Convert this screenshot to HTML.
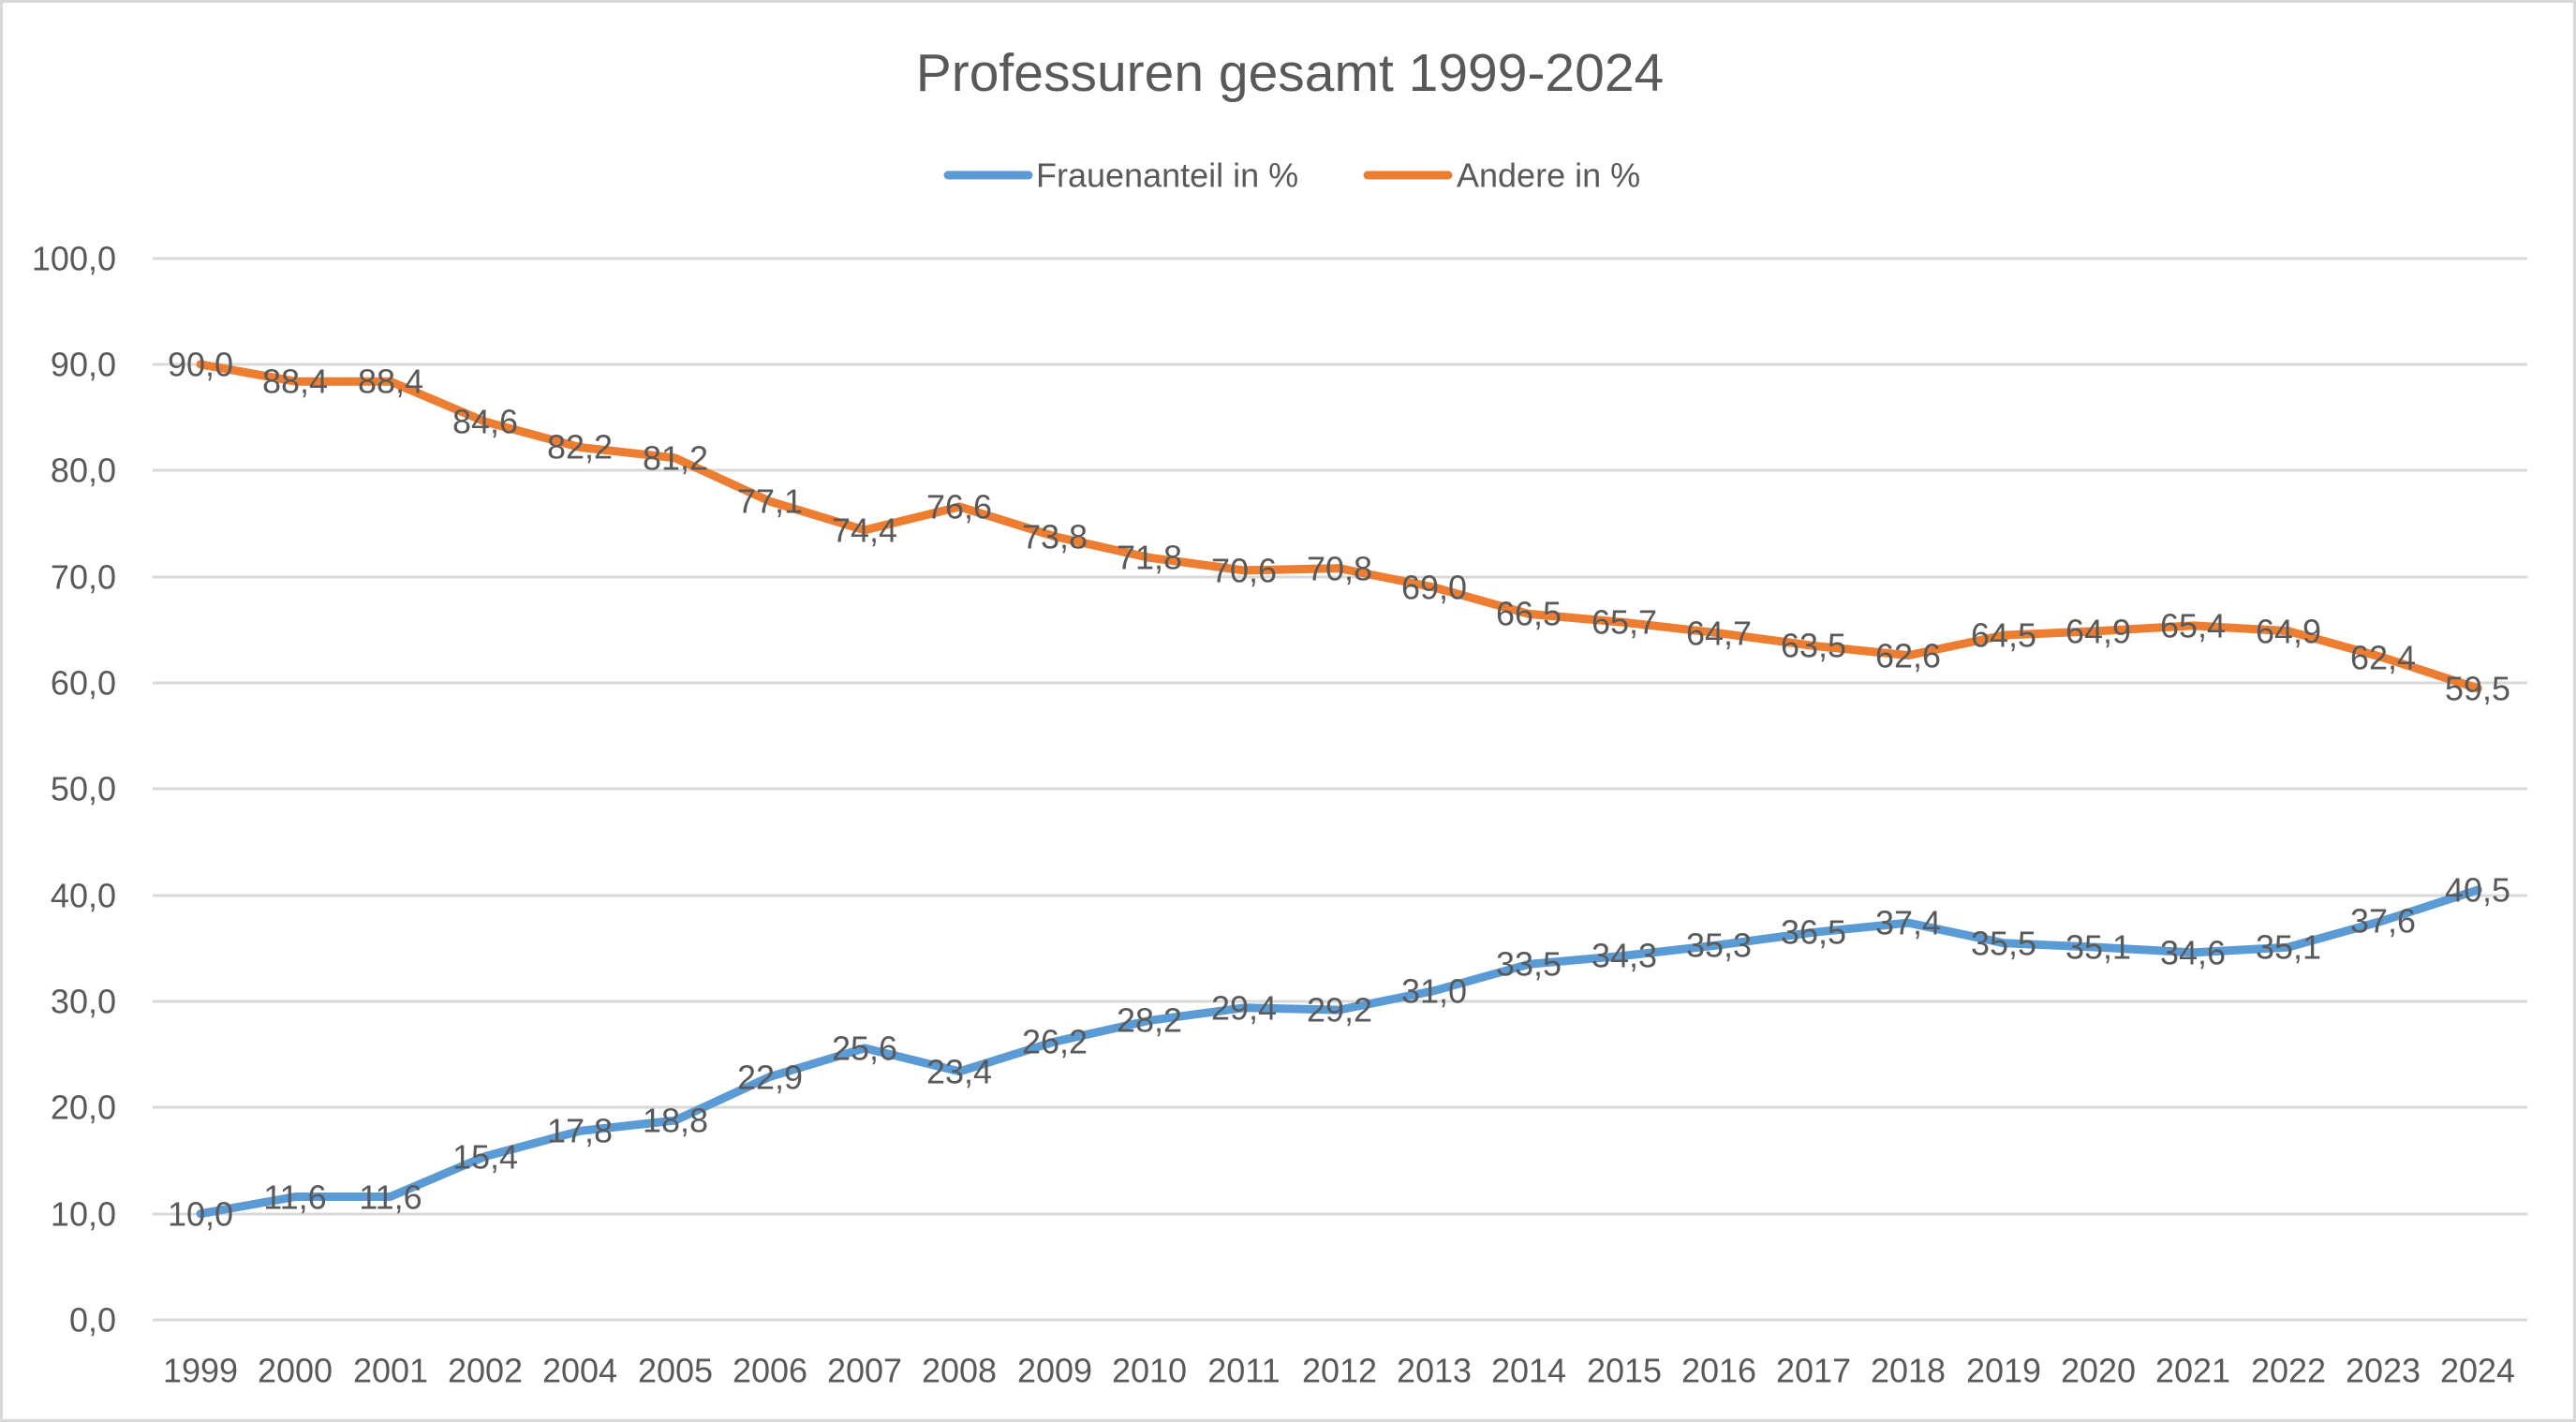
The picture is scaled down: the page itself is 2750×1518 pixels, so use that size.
<!DOCTYPE html>
<html><head><meta charset="utf-8"><style>
html,body{margin:0;padding:0;background:#fff}
svg{display:block}
text{font-family:"Liberation Sans",sans-serif;fill:#595959}
.d{font-size:36px;fill:#404040;text-anchor:middle;dominant-baseline:central}
.ax{font-size:36px}
</style></head><body>
<svg width="2750" height="1518" viewBox="0 0 2750 1518" xmlns="http://www.w3.org/2000/svg">
<rect x="1.5" y="1.5" width="2747" height="1515" fill="#fff" stroke="#d9d9d9" stroke-width="3"/>
<text x="1377" y="78" font-size="57" text-anchor="middle" dominant-baseline="central">Professuren gesamt 1999-2024</text>
<line x1="1012" y1="187" x2="1098" y2="187" stroke="#5b9bd5" stroke-width="9" stroke-linecap="round"/>
<text x="1106" y="187" font-size="36" dominant-baseline="central">Frauenanteil in %</text>
<line x1="1460" y1="187" x2="1546" y2="187" stroke="#ed7d31" stroke-width="9" stroke-linecap="round"/>
<text x="1555" y="187" font-size="36" dominant-baseline="central">Andere in %</text>
<g stroke="#d9d9d9" stroke-width="3">
<line x1="163" y1="276" x2="2698" y2="276"/><line x1="163" y1="389" x2="2698" y2="389"/>
<line x1="163" y1="502" x2="2698" y2="502"/><line x1="163" y1="616" x2="2698" y2="616"/>
<line x1="163" y1="729" x2="2698" y2="729"/><line x1="163" y1="842" x2="2698" y2="842"/>
<line x1="163" y1="956" x2="2698" y2="956"/><line x1="163" y1="1069" x2="2698" y2="1069"/>
<line x1="163" y1="1182" x2="2698" y2="1182"/><line x1="163" y1="1296" x2="2698" y2="1296"/>
<line x1="163" y1="1409" x2="2698" y2="1409"/>
</g>
<g class="ax" text-anchor="end" dominant-baseline="central">
<text x="124" y="276">100,0</text><text x="124" y="389">90,0</text><text x="124" y="502">80,0</text>
<text x="124" y="616">70,0</text><text x="124" y="729">60,0</text><text x="124" y="842">50,0</text>
<text x="124" y="956">40,0</text><text x="124" y="1069">30,0</text><text x="124" y="1182">20,0</text>
<text x="124" y="1296">10,0</text><text x="124" y="1409">0,0</text>
</g>
<g class="ax" text-anchor="middle" dominant-baseline="central">
<text x="214" y="1463">1999</text><text x="315" y="1463">2000</text><text x="417" y="1463">2001</text>
<text x="518" y="1463">2002</text><text x="619" y="1463">2004</text><text x="721" y="1463">2005</text>
<text x="822" y="1463">2006</text><text x="923" y="1463">2007</text><text x="1024" y="1463">2008</text>
<text x="1126" y="1463">2009</text><text x="1227" y="1463">2010</text><text x="1328" y="1463">2011</text>
<text x="1430" y="1463">2012</text><text x="1531" y="1463">2013</text><text x="1632" y="1463">2014</text>
<text x="1734" y="1463">2015</text><text x="1835" y="1463">2016</text><text x="1936" y="1463">2017</text>
<text x="2037" y="1463">2018</text><text x="2139" y="1463">2019</text><text x="2240" y="1463">2020</text>
<text x="2341" y="1463">2021</text><text x="2443" y="1463">2022</text><text x="2544" y="1463">2023</text>
<text x="2645" y="1463">2024</text>
</g>
<polyline fill="none" stroke="#ed7d31" stroke-width="9" stroke-linejoin="round" stroke-linecap="round" points="214,388.9 315.3,407.2 416.6,407.2 517.9,450.2 619.2,477.5 720.5,488.8 821.8,535.2 923.1,565.9 1024.4,540.9 1125.7,572.6 1227,595.3 1328.3,608.9 1429.6,606.6 1530.9,627 1632.2,655.4 1733.5,664.4 1834.8,675.8 1936.1,689.4 2037.4,699.6 2138.7,678.1 2240,673.6 2341.3,667.9 2442.6,673.6 2543.9,701.9 2645.2,734.8"/>
<polyline fill="none" stroke="#5b9bd5" stroke-width="9" stroke-linejoin="round" stroke-linecap="round" points="214,1295.7 315.3,1277.5 416.6,1277.5 517.9,1234.5 619.2,1207.3 720.5,1196.1 821.8,1149.5 923.1,1118.9 1024.4,1143.8 1125.7,1112.1 1227,1089.4 1328.3,1075.8 1429.6,1078.1 1530.9,1057.7 1632.2,1029.3 1733.5,1020.3 1834.8,1008.9 1936.1,995.3 2037.4,985.1 2138.7,1006.7 2240,1011.2 2341.3,1016.9 2442.6,1011.2 2543.9,982.9 2645.2,950"/>
<g class="d">
<text x="214" y="389">90,0</text><text x="315" y="407">88,4</text><text x="417" y="407">88,4</text>
<text x="518" y="450">84,6</text><text x="619" y="477">82,2</text><text x="721" y="489">81,2</text>
<text x="822" y="535">77,1</text><text x="923" y="566">74,4</text><text x="1024" y="541">76,6</text>
<text x="1126" y="573">73,8</text><text x="1227" y="595">71,8</text><text x="1328" y="609">70,6</text>
<text x="1430" y="607">70,8</text><text x="1531" y="627">69,0</text><text x="1632" y="655">66,5</text>
<text x="1734" y="664">65,7</text><text x="1835" y="676">64,7</text><text x="1936" y="689">63,5</text>
<text x="2037" y="700">62,6</text><text x="2139" y="678">64,5</text><text x="2240" y="674">64,9</text>
<text x="2341" y="668">65,4</text><text x="2443" y="674">64,9</text><text x="2544" y="702">62,4</text>
<text x="2645" y="735">59,5</text>
<text x="214" y="1296">10,0</text><text x="315" y="1278">11,6</text><text x="417" y="1278">11,6</text>
<text x="518" y="1235">15,4</text><text x="619" y="1207">17,8</text><text x="721" y="1196">18,8</text>
<text x="822" y="1150">22,9</text><text x="923" y="1119">25,6</text><text x="1024" y="1144">23,4</text>
<text x="1126" y="1112">26,2</text><text x="1227" y="1089">28,2</text><text x="1328" y="1076">29,4</text>
<text x="1430" y="1078">29,2</text><text x="1531" y="1058">31,0</text><text x="1632" y="1029">33,5</text>
<text x="1734" y="1020">34,3</text><text x="1835" y="1009">35,3</text><text x="1936" y="995">36,5</text>
<text x="2037" y="985">37,4</text><text x="2139" y="1007">35,5</text><text x="2240" y="1011">35,1</text>
<text x="2341" y="1017">34,6</text><text x="2443" y="1011">35,1</text><text x="2544" y="983">37,6</text>
<text x="2645" y="950">40,5</text>
</g>
</svg>
</body></html>
